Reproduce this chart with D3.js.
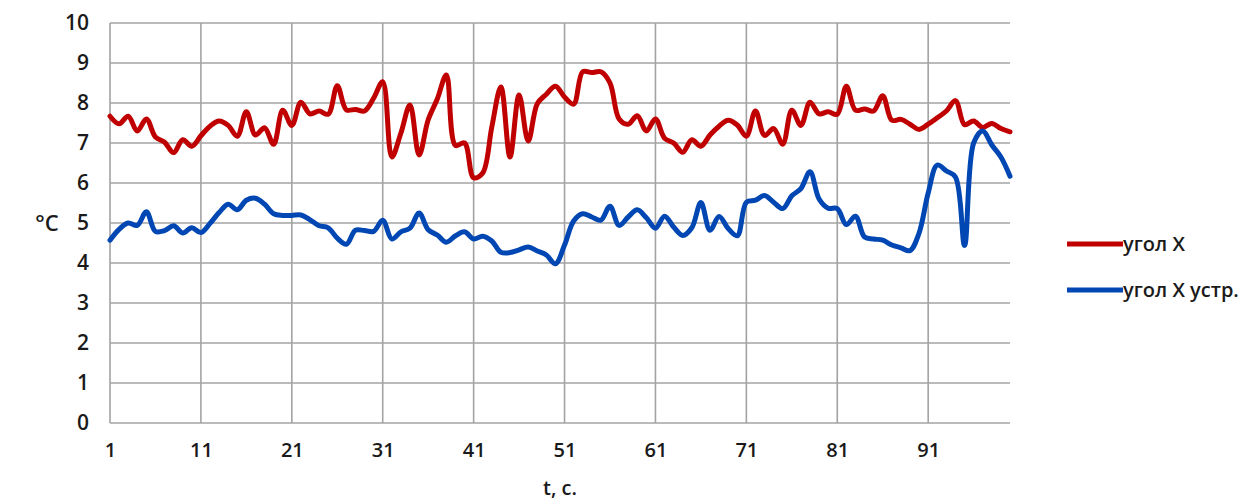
<!DOCTYPE html>
<html>
  <head>
    <meta charset="utf-8" />
    <title>угол X</title>
    <script src="https://d3js.org/d3.v7.min.js"></script>
    <style>
      body {
        margin: 0;
        background: #fff;
      }
      text {
        font-family: "Open Sans", sans-serif;
        font-weight: 600;
        fill: #1a1a1a;
      }
    </style>
  </head>
  <body>

    <svg id="chart">
      <g id="grid"></g>
      <g id="x"></g>
      <g id="y"></g>
      <g id="lines"></g>
      <g id="legend"></g>
    </svg>

    <script>

      // t = 1 .. 100
      var angleX = [
        7.67, 7.48, 7.67, 7.30, 7.60, 7.15, 7.02, 6.76, 7.08, 6.92,
        7.18, 7.42, 7.55, 7.44, 7.17, 7.78, 7.20, 7.38, 6.97, 7.82,
        7.44, 8.02, 7.73, 7.80, 7.72, 8.43, 7.83, 7.84, 7.80, 8.12,
        8.53, 6.65, 7.25, 7.95, 6.70, 7.58, 8.10, 8.70, 6.94, 7.00,
        6.13, 6.25, 7.40, 8.40, 6.65, 8.20, 7.05, 7.98, 8.22, 8.42,
        8.15, 7.97, 8.78, 8.76, 8.78, 8.50, 7.60, 7.47, 7.68, 7.30,
        7.60, 7.12, 7.00, 6.77, 7.08, 6.92, 7.20, 7.42, 7.57, 7.45,
        7.17, 7.80, 7.19, 7.36, 6.97, 7.82, 7.44, 8.02, 7.73, 7.78,
        7.72, 8.42, 7.82, 7.85, 7.80, 8.18, 7.57, 7.59, 7.47, 7.34,
        7.47, 7.63, 7.80, 8.06, 7.46, 7.55, 7.39, 7.49, 7.36, 7.28
      ];

      var angleXdev = [
        4.57, 4.84, 5.00, 4.94, 5.28, 4.79, 4.81, 4.93, 4.75, 4.88,
        4.76, 4.99, 5.26, 5.47, 5.33, 5.57, 5.62, 5.47, 5.23, 5.19,
        5.19, 5.20, 5.08, 4.93, 4.88, 4.62, 4.47, 4.82, 4.81, 4.79,
        5.07, 4.60, 4.78, 4.87, 5.25, 4.83, 4.70, 4.52, 4.68, 4.78,
        4.60, 4.67, 4.55, 4.27, 4.26, 4.33, 4.40, 4.30, 4.20, 3.98,
        4.45, 5.05, 5.23, 5.15, 5.07, 5.42, 4.94, 5.15, 5.33, 5.13,
        4.87, 5.17, 4.90, 4.69, 4.88, 5.51, 4.82, 5.16, 4.86, 4.68,
        5.52, 5.57, 5.69, 5.52, 5.36, 5.68, 5.86, 6.28, 5.60, 5.37,
        5.36, 4.96, 5.17, 4.65, 4.60, 4.57, 4.45, 4.38, 4.31, 4.75,
        5.75, 6.45, 6.30, 6.15, 4.44, 7.00, 7.30, 6.95, 6.65, 6.17
      ];

      var xTicks = [1, 11, 21, 31, 41, 51, 61, 71, 81, 91];
      var yTicks = [0, 1, 2, 3, 4, 5, 6, 7, 8, 9, 10];
      var seriesNames = ["угол X", "угол X устр."];
      var seriesColors = ["#c00000", "#0047b3"];

      var width = 1244;
      var height = 504;
      var margin = {
        top: 23,
        right: 234,
        bottom: 81,
        left: 110
      };

      var svg = d3.select("#chart")
        .attr("width", width)
        .attr("height", height);

      var x = d3.scaleLinear()
        .domain([1, 100])
        .range([margin.left, width - margin.right]);

      var y = d3.scaleLinear()
        .domain([0, 10])
        .range([height - margin.bottom, margin.top]);

      var gridColor = "#a3a3a3";

      // horizontal grid
      svg.select("#grid").selectAll(".hgrid")
        .data(yTicks)
        .enter().append("line")
        .attr("class", "hgrid")
        .attr("x1", x(1))
        .attr("x2", x(100))
        .attr("y1", function(d) { return y(d); })
        .attr("y2", function(d) { return y(d); })
        .attr("stroke", gridColor)
        .attr("stroke-width", 1.6);

      // vertical grid
      svg.select("#grid").selectAll(".vgrid")
        .data(xTicks)
        .enter().append("line")
        .attr("class", "vgrid")
        .attr("x1", function(d) { return x(d); })
        .attr("x2", function(d) { return x(d); })
        .attr("y1", y(10))
        .attr("y2", y(0))
        .attr("stroke", gridColor)
        .attr("stroke-width", 1.6);

      var xAxis = d3.axisBottom(x)
        .tickValues(xTicks)
        .tickSize(0)
        .tickPadding(20)
        .tickFormat(d3.format("d"));

      svg.select("#x")
        .attr("transform", "translate(0," + y(0) + ")")
        .call(xAxis)
        .call(function(g) { g.select(".domain").remove(); })
        .selectAll("text")
        .attr("font-size", "20px")
        .style("font-family", "'Open Sans', sans-serif")
        .style("font-weight", 600)
        .attr("fill", "#1a1a1a");

      var yAxis = d3.axisLeft(y)
        .tickValues(yTicks)
        .tickSize(0)
        .tickPadding(21)
        .tickFormat(d3.format("d"));

      svg.select("#y")
        .attr("transform", "translate(" + x(1) + ",0)")
        .call(yAxis)
        .call(function(g) { g.select(".domain").remove(); })
        .selectAll("text")
        .attr("font-size", "21px")
        .style("font-family", "'Open Sans', sans-serif")
        .style("font-weight", 600)
        .attr("fill", "#1a1a1a");

      svg.append("text")
        .attr("x", 47)
        .attr("y", y(5) + 8)
        .attr("text-anchor", "middle")
        .attr("font-size", "22px")
        .text("°C");

      svg.append("text")
        .attr("x", 560)
        .attr("y", 495)
        .attr("text-anchor", "middle")
        .attr("font-size", "20px")
        .text("t, c.");

      var line = d3.line()
        .x(function(d, i) { return x(i + 1); })
        .y(function(d) { return y(d); })
        .curve(d3.curveCatmullRom.alpha(0.5));

      [angleX, angleXdev].forEach(function(values, k) {
        svg.select("#lines").append("path")
          .datum(values)
          .attr("fill", "none")
          .attr("stroke", seriesColors[k])
          .attr("stroke-width", 5)
          .attr("stroke-linejoin", "round")
          .attr("stroke-linecap", "round")
          .attr("d", line);
      });

      // legend
      var legend = svg.select("#legend").selectAll(".item")
        .data(seriesNames)
        .enter().append("g")
        .attr("class", "item")
        .attr("transform", function(d, i) {
          return "translate(1067," + (244 + i * 46) + ")";
        });

      legend.append("line")
        .attr("x1", 0)
        .attr("x2", 56)
        .attr("stroke", function(d, i) { return seriesColors[i]; })
        .attr("stroke-width", 5);

      legend.append("text")
        .attr("x", 56)
        .attr("y", 7)
        .attr("font-size", "20px")
        .text(function(d) { return d; });

    </script>

  </body>
</html>
